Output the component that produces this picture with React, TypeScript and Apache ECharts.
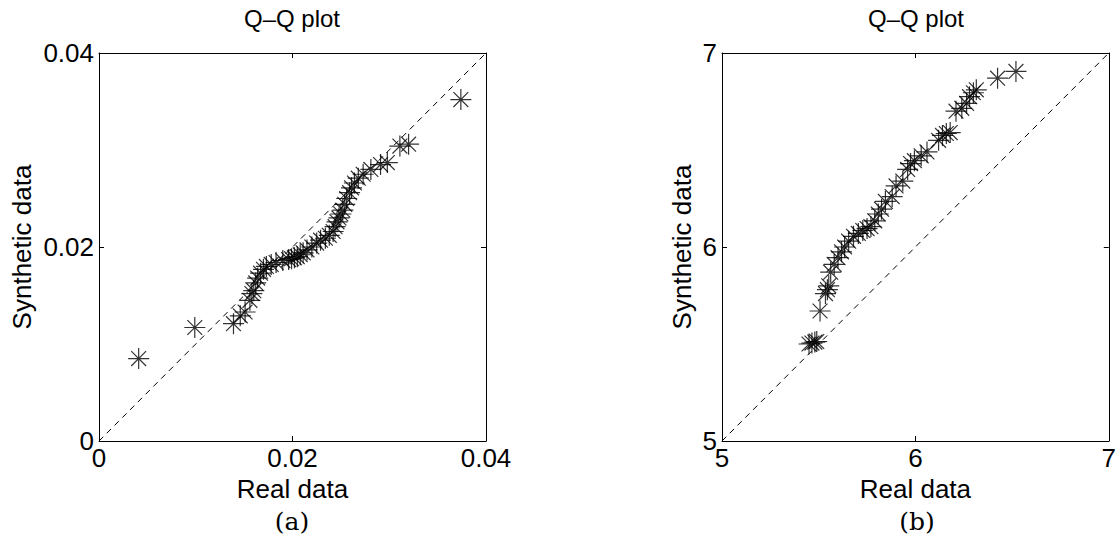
import { useEffect, useRef } from "react";
import * as echarts from "echarts";

// ---- data ----
const realA = [
  0.0041, 0.0099, 0.0139, 0.0146, 0.0151, 0.0156, 0.0158, 0.016, 0.0162, 0.0164,
  0.0167, 0.017, 0.0173, 0.0178, 0.0183, 0.019, 0.0196, 0.0199, 0.0202, 0.0205,
  0.0208, 0.0211, 0.0215, 0.022, 0.0225, 0.0229, 0.0234, 0.0238, 0.0242, 0.0244,
  0.0246, 0.0248, 0.025, 0.0252, 0.0254, 0.0256, 0.0259, 0.0261, 0.0264, 0.0268,
  0.0273, 0.0281, 0.0291, 0.0298, 0.0311, 0.032, 0.0374,
];
const synthA = [
  0.0085, 0.0117, 0.0121, 0.0129, 0.0133, 0.0145, 0.0152, 0.0155, 0.0163, 0.0168,
  0.0173, 0.0177, 0.018, 0.0182, 0.0184, 0.0186, 0.0187, 0.0188, 0.0189, 0.019,
  0.0192, 0.0194, 0.0197, 0.02, 0.0204, 0.0207, 0.0209, 0.0212, 0.0216, 0.0221,
  0.0226, 0.023, 0.0234, 0.0238, 0.0244, 0.025, 0.0256, 0.0261, 0.0266, 0.0271,
  0.0275, 0.028, 0.0285, 0.0287, 0.0304, 0.0306, 0.0352,
];
const realB = [
  5.45, 5.465, 5.48, 5.49, 5.507, 5.535, 5.545, 5.552, 5.562, 5.58,
  5.6, 5.618, 5.634, 5.655, 5.68, 5.705, 5.728, 5.75, 5.77, 5.79,
  5.808, 5.825, 5.845, 5.88, 5.9, 5.935, 5.96, 5.975, 5.995, 6.03,
  6.06, 6.12, 6.14, 6.16, 6.18, 6.21, 6.24, 6.265, 6.28, 6.3,
  6.315, 6.425, 6.52,
];
const synthB = [
  5.5, 5.505, 5.51, 5.513, 5.67, 5.76, 5.78, 5.8, 5.87, 5.91,
  5.945, 5.975, 6.0, 6.03, 6.055, 6.07, 6.085, 6.095, 6.105, 6.135,
  6.17, 6.195, 6.235, 6.26, 6.315, 6.34, 6.4, 6.43, 6.445, 6.47,
  6.49, 6.55, 6.575, 6.585, 6.59, 6.7, 6.715, 6.74, 6.775, 6.795,
  6.81, 6.87, 6.905,
];
const ticksA = [0, 0.02, 0.04];
const tickLabelsA = ["0", "0.02", "0.04"];
const ticksB = [5, 6, 7];
const tickLabelsB = ["5", "6", "7"];
const titleText = "Q\u2013Q plot";
const xName = "Real data";
const yName = "Synthetic data";
const captions = ["(a)", "(b)"];

const STAR =
  "path://M0,-10L0,10M-10,0L10,0M-7.07,-7.07L7.07,7.07M-7.07,7.07L7.07,-7.07";
const FONT = "'Liberation Sans', Arial, sans-serif";

function labelFor(ticks: number[], labels: string[]) {
  return (v: number) => {
    let best = 0;
    for (let i = 1; i < ticks.length; i++) {
      if (Math.abs(ticks[i] - v) < Math.abs(ticks[best] - v)) best = i;
    }
    return labels[best];
  };
}

function axisPair(
  kind: "x" | "y",
  gridIndex: number,
  ticks: number[],
  labels: string[],
  nameGap: number
) {
  const min = ticks[0];
  const max = ticks[ticks.length - 1];
  const interval = ticks[1] - ticks[0];
  const common = {
    type: "value",
    gridIndex,
    min,
    max,
    interval,
    splitLine: { show: false },
    axisLine: { show: true, onZero: false, lineStyle: { color: "#000", width: 1 } },
    axisTick: { show: true, inside: true, length: 5, lineStyle: { color: "#000", width: 1 } },
  };
  const main = {
    ...common,
    position: kind === "x" ? "bottom" : "left",
    axisLabel: {
      show: true,
      color: "#000",
      fontSize: 26,
      fontFamily: FONT,
      margin: kind === "x" ? 4 : 5,
      showMinLabel: true,
      showMaxLabel: true,
      formatter: labelFor(ticks, labels),
    },
    name: kind === "x" ? xName : yName,
    nameLocation: "middle",
    nameGap,
    nameTextStyle: { color: "#000", fontSize: 26, fontFamily: FONT },
  };
  const mirror = {
    ...common,
    position: kind === "x" ? "top" : "right",
    axisLabel: { show: false },
  };
  return [main, mirror];
}

export default function App() {
  const ref = useRef<HTMLDivElement>(null);
  useEffect(() => {
    if (!ref.current) return;
    const chart = echarts.init(ref.current, undefined, { renderer: "svg" });
    const grids = [
      { left: 99, top: 53, width: 387, height: 388 },
      { left: 722, top: 53, width: 388, height: 388 },
    ];
    const xAxes = [
      ...axisPair("x", 0, ticksA, tickLabelsA, 26),
      ...axisPair("x", 1, ticksB, tickLabelsB, 26),
    ];
    const yAxes = [
      ...axisPair("y", 0, ticksA, tickLabelsA, 64),
      ...axisPair("y", 1, ticksB, tickLabelsB, 27),
    ];
    const scatterStyle = {
      type: "scatter",
      symbol: STAR,
      symbolSize: 21,
      itemStyle: { color: "transparent", borderColor: "#000", borderWidth: 1.2 },
      silent: true,
    };
    const diag = (xi: number, ticks: number[]) => ({
      type: "line",
      xAxisIndex: xi,
      yAxisIndex: xi,
      data: [
        [ticks[0], ticks[0]],
        [ticks[ticks.length - 1], ticks[ticks.length - 1]],
      ],
      symbol: "none",
      lineStyle: { color: "#000", width: 1, type: [6, 5] },
      silent: true,
    });
    const titleStyle = {
      color: "#000",
      fontSize: 24,
      fontWeight: "normal",
      fontFamily: FONT,
    };
    chart.setOption({
      animation: false,
      backgroundColor: "#fff",
      title: [
        { text: titleText, left: 292, top: 6, textAlign: "center", padding: 0, textStyle: titleStyle },
        { text: titleText, left: 916, top: 6, textAlign: "center", padding: 0, textStyle: titleStyle },
      ],
      grid: grids,
      xAxis: xAxes,
      yAxis: yAxes,
      series: [
        diag(0, ticksA),
        diag(2, ticksB),
        {
          ...scatterStyle,
          xAxisIndex: 0,
          yAxisIndex: 0,
          data: realA.map((v, i) => [v, synthA[i]]),
        },
        {
          ...scatterStyle,
          xAxisIndex: 2,
          yAxisIndex: 2,
          data: realB.map((v, i) => [v, synthB[i]]),
        },
      ],
      graphic: [
        {
          type: "text",
          x: 292,
          y: 521,
          style: {
            text: captions[0],
            fill: "#000",
            font: "25px 'DejaVu Serif', serif",
            textAlign: "center",
            textVerticalAlign: "middle",
          },
        },
        {
          type: "text",
          x: 917,
          y: 521,
          style: {
            text: captions[1],
            fill: "#000",
            font: "25px 'DejaVu Serif', serif",
            textAlign: "center",
            textVerticalAlign: "middle",
          },
        },
      ],
    });
    return () => chart.dispose();
  }, []);
  return (
    <div
      ref={ref}
      style={{ position: "absolute", left: 0, top: 0, width: 1119, height: 543 }}
    />
  );
}
